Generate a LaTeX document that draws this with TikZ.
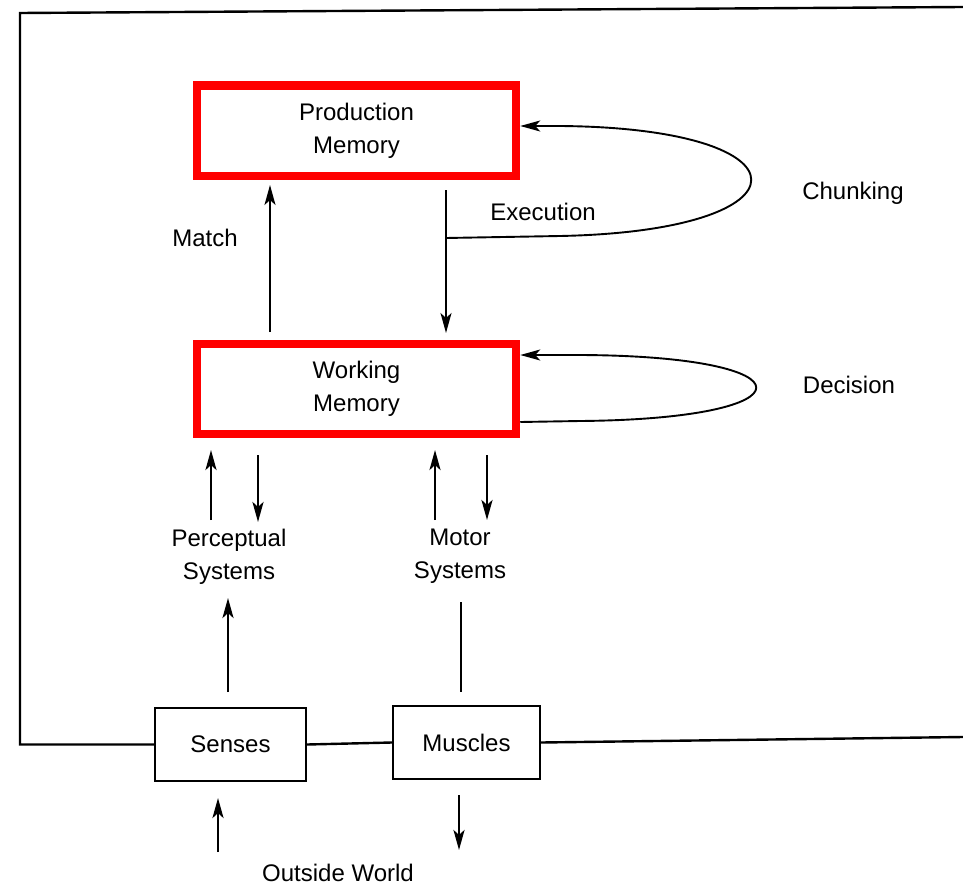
\documentclass[tikz,border=0pt]{standalone}
\usepackage{fontspec}
\setmainfont{Liberation Sans}
\usetikzlibrary{arrows.meta}
\begin{document}
\begin{tikzpicture}[x=1pt,y=-1pt,
  font=\fontsize{24}{33}\selectfont,
  redbox/.style={draw=red, line width=8.5pt, minimum width=319pt, minimum height=90pt, inner sep=0pt, align=center},
  plainbox/.style={draw=black, line width=2.4pt, minimum height=73pt, inner sep=0pt},
  frame/.style={draw=black, line width=2.4pt},
  thinarrow/.style={draw=black, line width=1.9pt, -{Stealth[length=20pt,width=11pt,inset=5pt]}},
  thickarrow/.style={draw=black, line width=2.7pt, -{Stealth[length=20pt,width=11pt,inset=5pt]}},
  thickline/.style={draw=black, line width=2.4pt},
  lbl/.style={align=center, inner sep=0pt}
]
\useasboundingbox[fill=white] (0,0) rectangle (963,888);

% boxes
\node[redbox] (PM) at (356.5,130.75) {Production\\Memory};
\node[redbox] (WM) at (356.5,389) {Working\\Memory};
\node[plainbox, minimum width=151pt] (Senses) at (230.5,744.5) {Senses};
\node[plainbox, minimum width=147pt] (Muscles) at (466.5,742.5) {Muscles};

% labels
\node[lbl] (match) at (205,238) {Match};
\node[lbl] (exec) at (543,212) {Execution};
\node[lbl] (chunk) at (853,193) {Chunking};
\node[lbl] (decis) at (849,385) {Decision};
\node[lbl] (percep) at (229,557) {Perceptual\\Systems};
\node[lbl] (motor) at (460,556) {Motor\\Systems};
\node[lbl] (world) at (338,873) {Outside World};

% outer frame
\coordinate (TL) at (20,13);
\coordinate (TR) at (963,7);
\coordinate (BR) at (963,737);
\draw[frame] (TR) -- (TL) -- (TL |- Senses.west) -- (Senses.west);
\draw[frame] (Senses.east) -- (Muscles.west);
\draw[frame] (Muscles.east) -- (BR);

% match and execution
\coordinate (m1) at (270,332);
\coordinate (m2) at (270,185);
\draw[thinarrow] (m1) -- (m2);
\coordinate (e1) at (446,190);
\coordinate (J) at (446,238);
\coordinate (e2) at (446,333);
\draw[thinarrow] (e1) -- (e2);

% chunking loop
\draw[thinarrow] (J) -- (560,236) .. controls (815,231) and (815,128) .. (560,126) -- (PM.east |- 0,126);

% decision loop
\draw[thinarrow] (WM.east |- 0,422) -- (580,421) .. controls (815,419) and (815,356) .. (580,355) -- (WM.east |- 0,355);

% arrows between working memory and systems
\coordinate (p1a) at (211,520); \coordinate (p1b) at (211,450);
\coordinate (p2a) at (258,455); \coordinate (p2b) at (258,522);
\coordinate (q1a) at (435,520); \coordinate (q1b) at (435,450);
\coordinate (q2a) at (487,455); \coordinate (q2b) at (487,520);
\draw[thickarrow] (p1a) -- (p1b);
\draw[thickarrow] (p2a) -- (p2b);
\draw[thickarrow] (q1a) -- (q1b);
\draw[thickarrow] (q2a) -- (q2b);

% systems to senses / muscles
\coordinate (s1) at (228,692); \coordinate (s2) at (228,598);
\draw[thickarrow] (s1) -- (s2);
\coordinate (t1) at (461,602); \coordinate (t2) at (461,692);
\draw[thickline] (t1) -- (t2);

% outside world
\coordinate (w1) at (218,852); \coordinate (w2) at (218,798);
\draw[thickarrow] (w1) -- (w2);
\coordinate (w3) at (459,795); \coordinate (w4) at (459,850);
\draw[thickarrow] (w3) -- (w4);
\end{tikzpicture}
\end{document}
